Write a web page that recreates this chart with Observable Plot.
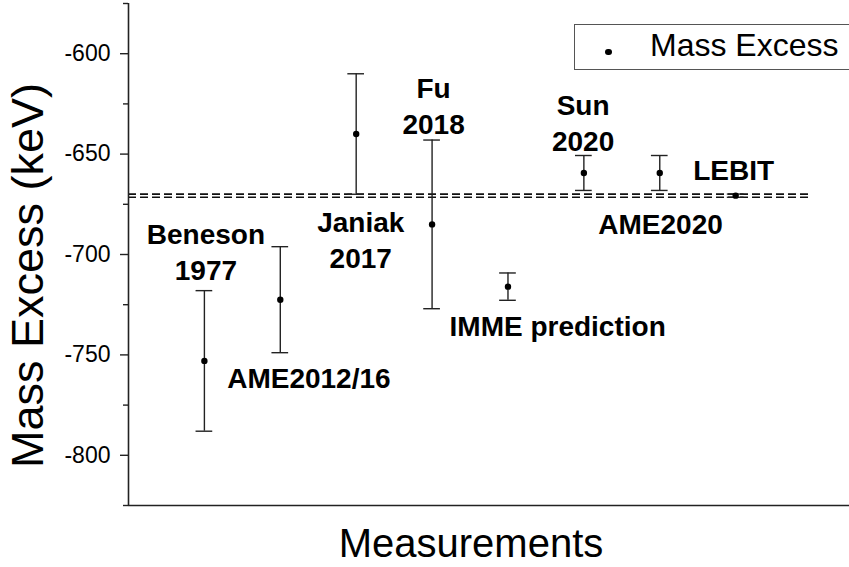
<!DOCTYPE html>
<html><head><meta charset="utf-8">
<script src="https://cdn.jsdelivr.net/npm/d3@7"></script>
<script src="https://cdn.jsdelivr.net/npm/@observablehq/plot@0.6"></script>
<style>
body{margin:0;background:#fff;overflow:hidden}
#wrap{position:relative;width:849px;height:567px;overflow:hidden;font-family:"Liberation Sans",Arial,sans-serif}
#legend{position:absolute;left:574px;top:24px;width:300px;height:46px;border:1.3px solid #555;box-sizing:border-box;background:#fff}
#legend .dot{position:absolute;left:30px;top:23.5px;width:6.5px;height:6.5px;border-radius:50%;background:#000}
#legend .lt{position:absolute;left:75px;top:4px;font-size:32px;line-height:32px;color:#000;white-space:nowrap}
</style></head><body><div id="wrap"></div>
<script>
// Data
const labels = ["Beneson 1977","AME2012/16","Janiak 2017","Fu 2018","IMME prediction","Sun 2020","AME2020","LEBIT"];
const positions = [1,2,3,4,5,6,7,8];
const massExcess = [-753, -722.5, -640, -685, -716, -659.4, -659.4, -670.7];
const uncertainty = [35, 26.4, 30, 42, 6.8, 8.7, 8.7, 0.8];
const yTicks = [-600, -650, -700, -750, -800];
const yMinorTicks = [-575, -625, -675, -725, -775, -825];
const xDomain = [0, 9.5];
const yDomain = [-825, -575];
const refSpan = [0, 9];

// Annotation placement (data units)
const annoText = ["Beneson\n1977","AME2012/16","Janiak\n2017","Fu\n2018","IMME prediction","Sun\n2020","AME2020","LEBIT"];
const annoX = [1.02, 1.30, 3.06, 4.02, 4.23, 5.99, 7.01, 7.44];
const annoY = [-698, -762.2, -692, -625.1, -736.3, -633.8, -684, -658.2];
const annoAnchor = ["middle","start","middle","middle","start","middle","middle","start"];

const data = labels.map((l, i) => ({label: l, x: positions[i], y: massExcess[i], e: uncertainty[i]}));
const annos = annoText.map((t, i) => ({t, x: annoX[i], y: annoY[i], a: annoAnchor[i]}));
const lebit = data[data.length - 1];
const refLines = [lebit.y + lebit.e, lebit.y - lebit.e].map(y => ({y}));
const cap = 0.11;
const font = "Liberation Sans, Arial, sans-serif";

const chart = Plot.plot({
  width: 849, height: 567,
  marginLeft: 128, marginRight: 0, marginTop: 3, marginBottom: 62,
  style: {fontFamily: font, color: "#000", background: "#fff"},
  x: {domain: xDomain, axis: null},
  y: {domain: yDomain, axis: null},
  marks: [
    Plot.ruleY(refLines, {y: "y", x1: refSpan[0], x2: refSpan[1], stroke: "#111", strokeWidth: 1.7, strokeDasharray: "8,4"}),
    Plot.ruleX(data, {x: "x", y1: d => d.y - d.e, y2: d => d.y + d.e, stroke: "#222", strokeWidth: 1.4}),
    Plot.ruleY(data, {y: d => d.y - d.e, x1: d => d.x - cap, x2: d => d.x + cap, stroke: "#222", strokeWidth: 1.4}),
    Plot.ruleY(data, {y: d => d.y + d.e, x1: d => d.x - cap, x2: d => d.x + cap, stroke: "#222", strokeWidth: 1.4}),
    Plot.dot(data, {x: "x", y: "y", r: 3.2, fill: "#000", stroke: "none"}),
    Plot.text(annos.filter(d => d.a === "middle"), {x: "x", y: "y", text: "t", textAnchor: "middle", lineAnchor: "middle", lineHeight: 1.3, fontSize: 28, fontWeight: "bold", fill: "#000"}),
    Plot.text(annos.filter(d => d.a === "start"), {x: "x", y: "y", text: "t", textAnchor: "start", lineAnchor: "middle", fontSize: 28, fontWeight: "bold", fill: "#000"}),
    Plot.axisY(yTicks, {tickSize: 8, tickPadding: 10, fontSize: 23, tickFormat: d => String(d), label: null, stroke: "#222", strokeWidth: 1.4}),
    Plot.axisY(yMinorTicks, {tickSize: 5, text: null, label: null, stroke: "#222", strokeWidth: 1.4}),
    Plot.ruleX([xDomain[0]], {stroke: "#222", strokeWidth: 1.6}),
    Plot.ruleY([yDomain[0]], {stroke: "#222", strokeWidth: 1.6}),
    Plot.text(["Mass Excess (keV)"], {frameAnchor: "left", dx: -100, dy: 21, rotate: -90, fontSize: 45, fill: "#000", textAnchor: "middle", lineAnchor: "middle"}),
    Plot.text(["Measurements"], {frameAnchor: "bottom", dx: -18, dy: 39, fontSize: 40, fill: "#000", textAnchor: "middle", lineAnchor: "middle"})
  ]
});
const wrap = document.getElementById("wrap");
wrap.appendChild(chart);
const legend = document.createElement("div");
legend.id = "legend";
legend.innerHTML = '<span class="dot"></span><span class="lt">Mass Excess</span>';
wrap.appendChild(legend);
</script>
</body></html>
